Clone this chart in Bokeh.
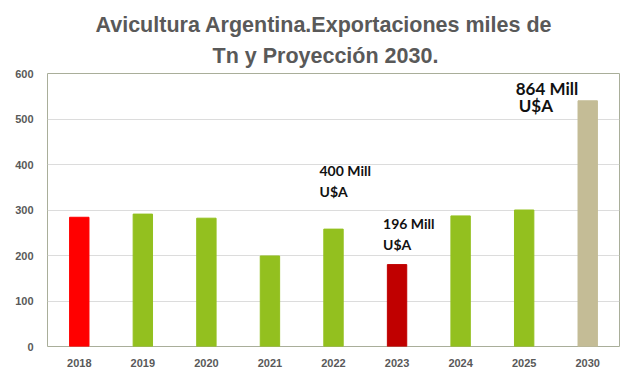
from bokeh.plotting import figure
from bokeh.models import ColumnDataSource, FactorRange, Range1d, Title
from bokeh.core.properties import value
from bokeh.embed import file_html
from bokeh.resources import INLINE

years = ["2018", "2019", "2020", "2021", "2022", "2023", "2024", "2025", "2030"]
exports = [284, 291, 282, 199, 258, 180, 287, 300, 540]
colors = ["#FF0000", "#93C01F", "#93C01F", "#93C01F", "#93C01F", "#C00000", "#93C01F", "#93C01F", "#C4BC96"]
y_ticks = [0, 100, 200, 300, 400, 500, 600]
title_lines = ["Avicultura Argentina.Exportaciones miles de", "Tn y Proyección 2030."]
title_offsets = [48, 165]
notes = ["400 Mill\nU$A", "196 Mill\nU$A"]
note_years = ["2022", "2023"]
note_tops = [405, 288]
big_note_lines = ["864 Mill", "U$A"]

src = ColumnDataSource(dict(x=years, top=exports, color=colors))

p = figure(width=632, height=373, x_range=FactorRange(*years), y_range=Range1d(0, 600),
           output_backend="svg", toolbar_location=None,
           min_border_left=47, min_border_right=13, min_border_bottom=27, min_border_top=73)
p.title = None
for i, (line, off) in enumerate(reversed(list(zip(title_lines, title_offsets)))):
    t = Title(text=line, align="left", text_font="Liberation Sans", text_font_size="21.5px",
              text_font_style="bold", text_color="#595959", offset=off,
              standoff=0 if i else 11)
    p.add_layout(t, "above")

p.vbar(x="x", top="top", width=0.305, color="color", source=src)

p.text(x=note_years, y=note_tops, text=notes, x_offset=[-14, -14], text_baseline="top",
       text_font=value("Lato"), text_font_style="bold", text_font_size="14px",
       text_color="#111111", text_line_height=1.2)
p.text(x=["2030", "2030"], y=[591, 553], text=big_note_lines, x_offset=[-72, -69],
       text_baseline="top",
       text_font=value("Lato"), text_font_style="bold", text_font_size="17px",
       text_color="#111111")

p.outline_line_color = "#A9AE9A"
p.outline_line_width = 1
p.xgrid.grid_line_color = None
p.ygrid.grid_line_color = "#DCDCDC"
p.yaxis.ticker = y_ticks
p.background_fill_color = "white"

for ax in (p.xaxis, p.yaxis):
    ax.axis_line_color = None
    ax.major_tick_line_color = None
    ax.minor_tick_line_color = None
    ax.major_label_text_font = "Liberation Sans"
    ax.major_label_text_font_style = "bold"
    ax.major_label_text_font_size = "11px"
    ax.major_label_text_color = "#595959"
p.xaxis.major_label_standoff = 6
p.yaxis.major_label_standoff = 8
p.x_range.range_padding = 0
p.x_range.group_padding = 0
p.x_range.factor_padding = 0

open("out.html", "w").write(file_html(p, INLINE))
